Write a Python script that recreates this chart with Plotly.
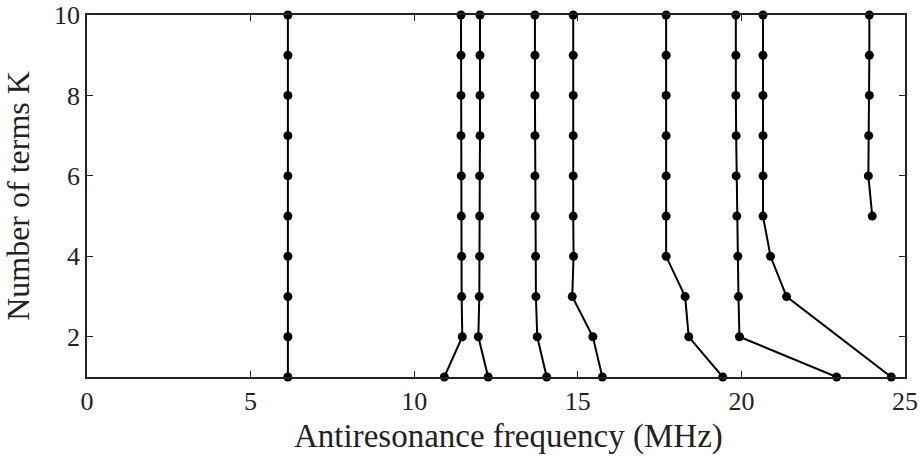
import plotly.graph_objects as go

K = [1, 2, 3, 4, 5, 6, 7, 8, 9, 10]

mode1 = [6.14, 6.14, 6.14, 6.14, 6.14, 6.14, 6.14, 6.14, 6.14, 6.14]
mode2 = [10.92, 11.47, 11.45, 11.45, 11.44, 11.44, 11.43, 11.43, 11.43, 11.43]
mode3 = [12.26, 11.96, 11.99, 12.0, 12.0, 12.0, 12.01, 12.01, 12.01, 12.01]
mode4 = [14.05, 13.76, 13.72, 13.71, 13.70, 13.69, 13.69, 13.69, 13.69, 13.69]
mode5 = [15.75, 15.46, 14.83, 14.87, 14.86, 14.86, 14.86, 14.86, 14.86, 14.86]
mode6 = [19.43, 18.39, 18.28, 17.70, 17.70, 17.70, 17.70, 17.70, 17.70, 17.70]
mode7 = [22.91, 19.94, 19.91, 19.89, 19.86, 19.84, 19.84, 19.83, 19.83, 19.83]
K8 = [1, 3, 4, 5, 6, 7, 8, 9, 10]
mode8 = [24.58, 21.38, 20.89, 20.66, 20.66, 20.66, 20.66, 20.66, 20.66]
K9 = [5, 6, 7, 8, 9, 10]
mode9 = [24.0, 23.88, 23.89, 23.91, 23.91, 23.91]

x_title = "Antiresonance frequency (MHz)"
y_title = "Number of terms K"

series = [
    (mode1, K), (mode2, K), (mode3, K), (mode4, K), (mode5, K),
    (mode6, K), (mode7, K), (mode8, K8), (mode9, K9),
]

fig = go.Figure()
for xs, ks in series:
    fig.add_trace(go.Scatter(
        x=xs, y=ks, mode="lines+markers",
        line=dict(color="black", width=2),
        marker=dict(color="black", size=9),
        cliponaxis=False, showlegend=False,
    ))

font = "Liberation Serif, DejaVu Serif, serif"
fig.update_layout(
    width=920, height=457,
    margin=dict(l=87, r=15, t=15, b=80),
    paper_bgcolor="white", plot_bgcolor="white",
    font=dict(family=font, color="#222", size=26),
)
axis_common = dict(
    ticks="inside", ticklen=6, tickwidth=1.2, tickcolor="#222",
    showline=True, linecolor="#222", linewidth=1.5, mirror="ticks",
    showgrid=False, zeroline=False, automargin=False,
    ticklabeloverflow="allow",
    tickfont=dict(family=font, size=26, color="#222"),
)
fig.update_xaxes(range=[0, 25], tickvals=[0, 5, 10, 15, 20, 25], **axis_common)
fig.update_yaxes(
    range=[1, 10], tickvals=[2, 4, 6, 8, 10],
    title=dict(text=y_title, font=dict(family=font, size=32, color="#222"), standoff=20),
    **axis_common,
)
fig.add_annotation(
    text=x_title, xref="paper", yref="paper", x=0.5, y=0,
    xanchor="center", yanchor="middle", xshift=12, yshift=-59,
    showarrow=False, font=dict(family=font, size=33, color="#222"),
)
fig.write_html(
    "out.html",
    config={"displayModeBar": False},
    post_script="document.body.style.margin='0';document.body.style.overflow='hidden';",
)
